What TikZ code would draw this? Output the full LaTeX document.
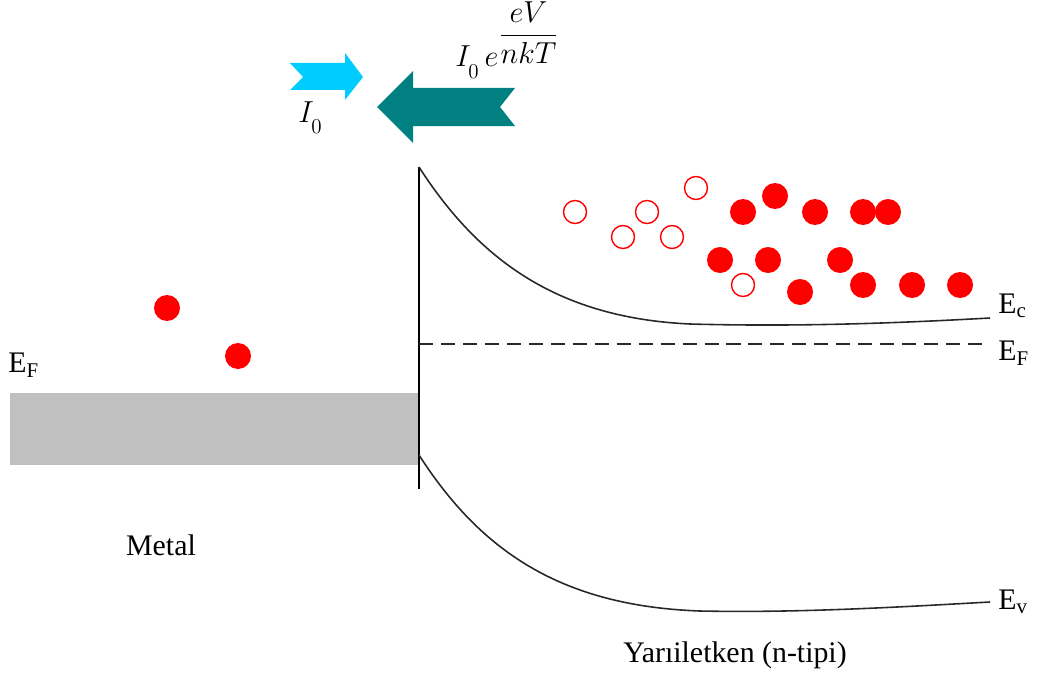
\documentclass[tikz,border=0pt]{standalone}
\usepackage{fontspec}
\setmainfont{Liberation Serif}
\begin{document}
\begin{tikzpicture}[x=0.02cm,y=-0.02cm,
  lbl/.style={font=\fontsize{17}{20}\selectfont, inner sep=0pt},
  band/.style={line width=0.9pt, draw={rgb,255:red,40;green,40;blue,40}},
  elec/.style={circle, fill=red, inner sep=0pt, minimum size=0.52cm},
  hole/.style={circle, draw=red, line width=0.8pt, fill=white, inner sep=0pt, minimum size=0.46cm}]
\definecolor{metalgray}{RGB}{192,192,192}
\definecolor{cyanarrow}{RGB}{0,204,255}
\definecolor{tealarrow}{RGB}{0,128,128}
\useasboundingbox (0,0) rectangle (1037,679);
% metal block
\fill[metalgray] (10,393) rectangle (418,465);
% interface
\coordinate (itop) at (419,167);
\coordinate (ibot) at (419,489);
\draw[line width=1.1pt] (itop) -- (ibot);
% conduction band
\coordinate (ecA) at (419,167);
\coordinate (ecB) at (690,324);
\coordinate (ecC) at (990,318);
\draw[band] (ecA) .. controls (480,262) and (560,318) .. (ecB) .. controls (800,327) and (900,323) .. (ecC);
% fermi level
\coordinate (efA) at (419,344);
\coordinate (efB) at (990,344);
\draw[band, dash pattern=on 8pt off 4.5pt] (efA) -- (efB);
% valence band
\coordinate (evA) at (419,455);
\coordinate (evB) at (700,611);
\coordinate (evC) at (990,602);
\draw[band] (evA) .. controls (480,550) and (560,606) .. (evB) .. controls (800,613) and (900,607) .. (evC);
% labels
\node[lbl, anchor=west] (lEc) at (998,306) {E\textsubscript{c}};
\node[lbl, anchor=west] (lEFr) at (998,353) {E\textsubscript{F}};
\node[lbl, anchor=west] (lEv) at (998,602) {E\textsubscript{v}};
\node[lbl, anchor=west] (lEFl) at (8,365) {E\textsubscript{F}};
\node[lbl] (lmetal) at (161,545) {Metal};
\node[lbl] (lsemi) at (735,655) {Yarıiletken (n-tipi)};
% electrons in metal
\node[elec] (m1) at (167,308) {};
\node[elec] (m2) at (238,356) {};
% electrons in semiconductor
\node[elec] (e1) at (743,212) {};
\node[elec] (e2) at (775,196) {};
\node[elec] (e3) at (815,212) {};
\node[elec] (e4) at (863,212) {};
\node[elec] (e5) at (888,212) {};
\node[elec] (e6) at (720,260) {};
\node[elec] (e7) at (768,260) {};
\node[elec] (e8) at (840,260) {};
\node[elec] (e9) at (800,292) {};
\node[elec] (e10) at (863,285) {};
\node[elec] (e11) at (912,285) {};
\node[elec] (e12) at (960,285) {};
% open circles
\node[hole] (h1) at (575,212) {};
\node[hole] (h2) at (647,212) {};
\node[hole] (h3) at (696,188) {};
\node[hole] (h4) at (623,237) {};
\node[hole] (h5) at (672,237) {};
\node[hole] (h6) at (743,285) {};
% arrows
\fill[cyanarrow] (290,63) -- (345,63) -- (345,53) -- (363,77) -- (345,100) -- (345,90) -- (290,90) -- (303,77) -- cycle;
\fill[tealarrow] (515,88) -- (413,88) -- (413,71) -- (377,107) -- (413,143) -- (413,126) -- (515,126) -- (500,107) -- cycle;
\node[lbl, anchor=base west] (lI0) at (298,122) {$I_{\raisebox{-4pt}{$\scriptstyle 0$}}$};
\node[lbl, anchor=base west] (lIexp) at (455,67) {$I_{\raisebox{-4pt}{$\scriptstyle 0$}}\, e^{\raisebox{7pt}{$\displaystyle\frac{eV}{nkT}$}}$};
\end{tikzpicture}
\end{document}
